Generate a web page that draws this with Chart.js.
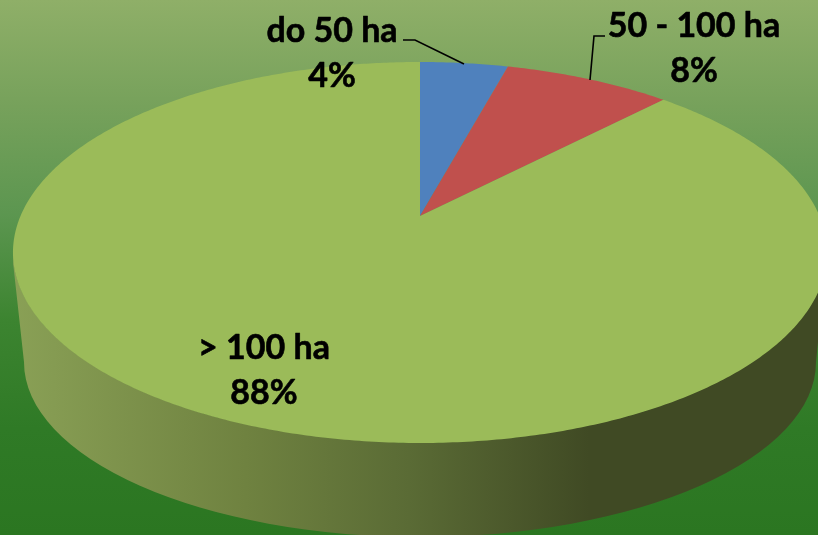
<!DOCTYPE html>
<html><head><meta charset="utf-8">
<script src="https://cdn.jsdelivr.net/npm/chart.js@4"></script>
<style>html,body{margin:0;padding:0;overflow:hidden;background:#2B7621}canvas{display:block}</style>
</head><body><canvas id="c" width="818" height="535"></canvas>
<script>
const categories = ['do 50 ha', '50 - 100 ha', '> 100 ha'];
const shares = [4.2, 8.0, 87.8];
const sliceColors = ['#4F81BD', '#C0504D', '#9BBB59'];
const labelAnchors = [[332, 31, 76], [694, 26, 71], [264, 348, 393]];
const leaderLines = [[[403,40],[415,40],[464,64]], [[605,36],[594,36],[590,80]]];

// perspective projection of the pie disc
const P = {x:420, y:216, A:399.5, B:183.5, k:0.1916};
function proj(angle){
  const th = angle + Math.PI/2, u = Math.sin(th), v = -Math.cos(th), w = 1 - P.k*v;
  return [P.x + P.A*u/w, P.y + P.B*v/w];
}
const pie3d = {
  id:'pie3d',
  beforeDraw(chart){
    const {ctx,width,height} = chart;
    const g = ctx.createLinearGradient(0,0,0,height);
    g.addColorStop(0,'#8FAF68'); g.addColorStop(.2,'#76A15B'); g.addColorStop(.4,'#5C9650');
    g.addColorStop(.6,'#3C8430'); g.addColorStop(.8,'#2F7A26'); g.addColorStop(1,'#2B7621');
    ctx.fillStyle = g; ctx.fillRect(0,0,width,height);
  },
  beforeDatasetsDraw(chart){
    const ctx = chart.ctx, arcs = chart.getDatasetMeta(0).data;
    // side wall
    const s = ctx.createLinearGradient(0,0,818,0);
    s.addColorStop(0,'#8BA257'); s.addColorStop(.3,'#6F8240'); s.addColorStop(.5,'#5A6B35');
    s.addColorStop(.72,'#404A24'); s.addColorStop(1,'#404A24');
    ctx.beginPath();
    ctx.moveTo(13,262);
    ctx.ellipse(420,362,396,175,0,Math.PI,0,true);
    ctx.lineTo(827,252);
    ctx.ellipse(420,252,407,190.5,0,0,Math.PI,false);
    ctx.closePath();
    ctx.fillStyle = s; ctx.fill();
    // top faces
    arcs.forEach((a,i)=>{
      ctx.beginPath();
      ctx.moveTo(P.x,P.y);
      const n = Math.max(2,Math.ceil((a.endAngle-a.startAngle)/0.01));
      for(let j=0;j<=n;j++){
        const p = proj(a.startAngle+(a.endAngle-a.startAngle)*j/n);
        ctx.lineTo(p[0],p[1]);
      }
      ctx.closePath();
      ctx.fillStyle = sliceColors[i]; ctx.fill();
    });
    return false;
  },
  afterDraw(chart){
    const ctx = chart.ctx;
    ctx.strokeStyle='#000'; ctx.lineWidth=1.6;
    leaderLines.forEach(l=>{
      ctx.beginPath(); l.forEach((p,i)=>i?ctx.lineTo(p[0],p[1]):ctx.moveTo(p[0],p[1])); ctx.stroke();
    });
    ctx.fillStyle='#000'; ctx.textAlign='center'; ctx.textBaseline='middle';
    ctx.font='bold 34px Lato'; ctx.lineWidth=0.6; ctx.lineJoin='round';
    categories.forEach((c,i)=>{
      const [x,y1,y2]=labelAnchors[i];
      [[c,y1],[Math.round(shares[i])+'%',y2]].forEach(([t,y])=>{
        ctx.fillText(t,x,y); ctx.strokeText(t,x,y);
      });
    });
  }
};
new Chart(document.getElementById('c'),{
  type:'pie',
  data:{labels:categories,datasets:[{data:shares,backgroundColor:sliceColors,borderWidth:0}]},
  options:{responsive:false,animation:false,plugins:{legend:{display:false},tooltip:{enabled:false}}},
  plugins:[pie3d]
});
</script></body></html>
